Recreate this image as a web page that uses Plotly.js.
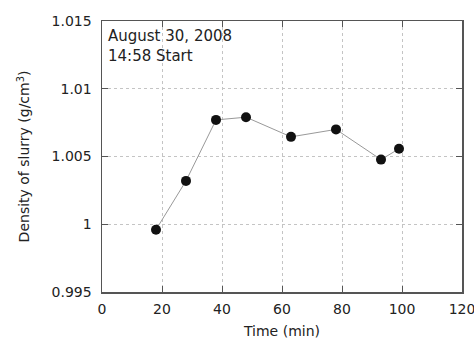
<!DOCTYPE html>
<html><head><meta charset="utf-8">
<script src="https://cdn.plot.ly/plotly-3.0.1.min.js"></script>
<style>body{margin:0;background:#fff}#c{width:474px;height:350px}</style>
</head><body><div id="c"></div>
<script>
const timeMin = [18, 28, 38, 48, 63, 78, 93, 99];
const density = [0.9996, 1.0032, 1.0077, 1.0079, 1.00645, 1.0070, 1.00477, 1.00557];
const xTicks = [0, 20, 40, 60, 80, 100, 120];
const yTicks = [0.995, 1.0, 1.005, 1.01, 1.015];
const yTickText = ["0.995", "1", "1.005", "1.01", "1.015"];

const font = {family: "DejaVu Sans, Verdana, sans-serif", size: 14, color: "#222"};
Plotly.newPlot("c", [{
  x: timeMin, y: density, type: "scatter", mode: "lines+markers",
  line: {color: "#999", width: 1},
  marker: {color: "#111", size: 10}
}], {
  width: 474, height: 350,
  margin: {l: 102, r: 12, t: 21, b: 58},
  paper_bgcolor: "#fff", plot_bgcolor: "#fff",
  font: font, showlegend: false,
  xaxis: {range: [0, 120], tickvals: xTicks, ticks: "inside", ticklen: 6, tickcolor: "#555",
    ticklabeloverflow: "allow", ticklabelstandoff: 4,
    showline: true, linecolor: "#555", linewidth: 1.5, mirror: "ticks",
    showgrid: true, gridcolor: "#c4c4c4", griddash: "dot", gridwidth: 1, zeroline: false,
    title: {text: "Time (min)", font: font, standoff: 10}},
  yaxis: {range: [0.995, 1.015], tickvals: yTicks, ticktext: yTickText, ticks: "inside", ticklen: 6, tickcolor: "#555",
    ticklabelstandoff: 6,
    showline: true, linecolor: "#555", linewidth: 1.5, mirror: "ticks",
    showgrid: true, gridcolor: "#c4c4c4", griddash: "dot", gridwidth: 1, zeroline: false,
    title: {text: "Density of slurry (g/cm<sup>3</sup>)", font: font, standoff: 18}},
  annotations: [{xref: "paper", yref: "paper", x: 0.01, y: 0.985, xanchor: "left", yanchor: "top",
    align: "left", showarrow: false, text: "August 30, 2008<br>14:58 Start",
    font: {family: font.family, size: 15, color: "#222"}}]
}, {staticPlot: true});
</script></body></html>
